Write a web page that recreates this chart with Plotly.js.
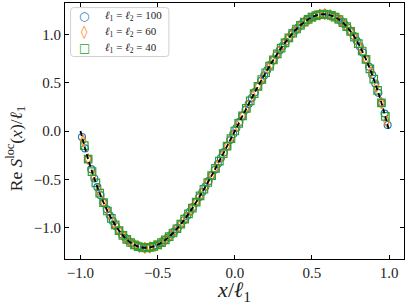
<!DOCTYPE html>
<html>
<head>
<meta charset="utf-8">
<script src="https://cdn.plot.ly/plotly-3.0.1.min.js"></script>
<style>html,body{margin:0;padding:0;background:#fff;}#plot{width:407px;height:305px;}</style>
</head>
<body>
<div id="plot"></div>
<script>
// ℓ1 = ℓ2 = 100 (circles)
const x100 = [-0.99,-0.97,-0.95,-0.93,-0.91,-0.89,-0.87,-0.85,-0.83,-0.81,-0.79,-0.77,-0.75,-0.73,-0.71,-0.69,-0.67,-0.65,-0.63,-0.61,-0.59,-0.57,-0.55,-0.53,-0.51,-0.49,-0.47,-0.45,-0.43,-0.41,-0.39,-0.37,-0.35,-0.33,-0.31,-0.29,-0.27,-0.25,-0.23,-0.21,-0.19,-0.17,-0.15,-0.13,-0.11,-0.09,-0.07,-0.05,-0.03,-0.01,
  0.01,0.03,0.05,0.07,0.09,0.11,0.13,0.15,0.17,0.19,0.21,0.23,0.25,0.27,0.29,0.31,0.33,0.35,0.37,0.39,0.41,0.43,0.45,0.47,0.49,0.51,0.53,0.55,0.57,0.59,0.61,0.63,0.65,0.67,0.69,0.71,0.73,0.75,0.77,0.79,0.81,0.83,0.85,0.87,0.89,0.91,0.93,0.95,0.97,0.99];
const y100 = [-0.062,-0.180,-0.291,-0.395,-0.491,-0.581,-0.664,-0.741,-0.811,-0.875,-0.933,-0.985,-1.031,-1.071,-1.106,-1.136,-1.160,-1.179,-1.194,-1.203,-1.208,-1.209,-1.205,-1.197,-1.185,-1.170,-1.150,-1.127,-1.101,-1.072,-1.039,-1.003,-0.965,-0.924,-0.880,-0.834,-0.786,-0.736,-0.684,-0.631,-0.575,-0.519,-0.461,-0.402,-0.341,-0.280,-0.219,-0.157,-0.094,-0.031,
  0.031,0.094,0.157,0.219,0.280,0.341,0.402,0.461,0.519,0.575,0.631,0.684,0.736,0.786,0.834,0.880,0.924,0.965,1.003,1.039,1.072,1.101,1.127,1.150,1.170,1.185,1.197,1.205,1.209,1.208,1.203,1.194,1.179,1.160,1.136,1.106,1.071,1.031,0.985,0.933,0.875,0.811,0.741,0.664,0.581,0.491,0.395,0.291,0.180,0.062];

// ℓ1 = ℓ2 = 60 (diamonds)
const x60 = [-0.983,-0.95,-0.917,-0.883,-0.85,-0.817,-0.783,-0.75,-0.717,-0.683,-0.65,-0.617,-0.583,-0.55,-0.517,-0.483,-0.45,-0.417,-0.383,-0.35,-0.317,-0.283,-0.25,-0.217,-0.183,-0.15,-0.117,-0.083,-0.05,-0.017,
  0.017,0.05,0.083,0.117,0.15,0.183,0.217,0.25,0.283,0.317,0.35,0.383,0.417,0.45,0.483,0.517,0.55,0.583,0.617,0.65,0.683,0.717,0.75,0.783,0.817,0.85,0.883,0.917,0.95,0.983];
const y60 = [-0.102,-0.291,-0.460,-0.610,-0.741,-0.854,-0.951,-1.031,-1.095,-1.144,-1.179,-1.201,-1.209,-1.205,-1.190,-1.164,-1.127,-1.082,-1.027,-0.965,-0.895,-0.819,-0.736,-0.649,-0.557,-0.461,-0.362,-0.260,-0.157,-0.052,
  0.052,0.157,0.260,0.362,0.461,0.557,0.649,0.736,0.819,0.895,0.965,1.027,1.082,1.127,1.164,1.190,1.205,1.209,1.201,1.179,1.144,1.095,1.031,0.951,0.854,0.741,0.610,0.460,0.291,0.102];

// ℓ1 = ℓ2 = 40 (squares)
const x40 = [-0.975,-0.95,-0.925,-0.9,-0.875,-0.85,-0.825,-0.8,-0.775,-0.75,-0.725,-0.7,-0.675,-0.65,-0.625,-0.6,-0.575,-0.55,-0.525,-0.5,-0.475,-0.45,-0.425,-0.4,-0.375,-0.35,-0.325,-0.3,-0.275,-0.25,-0.225,-0.2,-0.175,-0.15,-0.125,-0.1,-0.075,-0.05,-0.025,0,
  0.025,0.05,0.075,0.1,0.125,0.15,0.175,0.2,0.225,0.25,0.275,0.3,0.325,0.35,0.375,0.4,0.425,0.45,0.475,0.5,0.525,0.55,0.575,0.6,0.625,0.65,0.675,0.7,0.725,0.75,0.775,0.8,0.825,0.85,0.875,0.9,0.925,0.95,0.975];
const y40 = [-0.151,-0.291,-0.420,-0.537,-0.644,-0.741,-0.828,-0.905,-0.972,-1.031,-1.080,-1.122,-1.154,-1.179,-1.197,-1.206,-1.209,-1.205,-1.195,-1.178,-1.156,-1.127,-1.094,-1.056,-1.012,-0.965,-0.913,-0.858,-0.799,-0.736,-0.671,-0.603,-0.533,-0.461,-0.387,-0.311,-0.234,-0.157,-0.078,0,
  0.078,0.157,0.234,0.311,0.387,0.461,0.533,0.603,0.671,0.736,0.799,0.858,0.913,0.965,1.012,1.056,1.094,1.127,1.156,1.178,1.195,1.205,1.209,1.206,1.197,1.179,1.154,1.122,1.080,1.031,0.972,0.905,0.828,0.741,0.644,0.537,0.420,0.291,0.151];

// theory curve (dashed)
const xTh = [-1,-0.95,-0.9,-0.85,-0.8,-0.75,-0.7,-0.65,-0.6,-0.55,-0.5,-0.45,-0.4,-0.35,-0.3,-0.25,-0.2,-0.15,-0.1,-0.05,0,
  0.05,0.1,0.15,0.2,0.25,0.3,0.35,0.4,0.45,0.5,0.55,0.6,0.65,0.7,0.75,0.8,0.85,0.9,0.95,1];
const yTh = [0,-0.291,-0.537,-0.741,-0.905,-1.031,-1.122,-1.179,-1.206,-1.205,-1.178,-1.127,-1.056,-0.965,-0.858,-0.736,-0.603,-0.461,-0.311,-0.157,0,
  0.157,0.311,0.461,0.603,0.736,0.858,0.965,1.056,1.127,1.178,1.205,1.206,1.179,1.122,1.031,0.905,0.741,0.537,0.291,0];

const legendNames = ['<i>ℓ</i><sub>1</sub> = <i>ℓ</i><sub>2</sub> = 100',
                     '<i>ℓ</i><sub>1</sub> = <i>ℓ</i><sub>2</sub> = 60',
                     '<i>ℓ</i><sub>1</sub> = <i>ℓ</i><sub>2</sub> = 40'];
const legendGlyphs = ['○', '◊', '□'];
const colors = ['#1f77b4', '#ff7f0e', '#2ca02c'];
const xTicks = [-1.0,-0.5,0.0,0.5,1.0];
const yTicks = [-1.0,-0.5,0.0,0.5,1.0];
const yTitle = 'Re <i>S</i><sup>loc</sup>(<i>x</i>)/<i>ℓ</i><sub>1</sub>';
const xTitle = '<i>x</i>/<i>ℓ</i><sub>1</sub>';

const FONT = 'Liberation Serif, DejaVu Serif, serif';

const traces = [
  {x:x100, y:y100, type:'scatter', mode:'markers', name:legendNames[0], showlegend:false,
   marker:{symbol:'circle-open', size:7, color:colors[0], line:{width:1.1, color:colors[0]}}},
  {x:x60, y:y60, type:'scatter', mode:'markers', name:legendNames[1], showlegend:false,
   marker:{symbol:'diamond-tall-open', size:8, color:colors[1], line:{width:1.1, color:colors[1]}}},
  {x:x40, y:y40, type:'scatter', mode:'markers', name:legendNames[2], showlegend:false,
   marker:{symbol:'square-open', size:7.5, color:colors[2], line:{width:1.2, color:colors[2]}}},
  {x:xTh, y:yTh, type:'scatter', mode:'lines', showlegend:false,
   line:{color:'#000', width:1.8, dash:'5px,3px', shape:'spline', smoothing:1}}
];

// legend box (paper coordinates of the plot area)
const lx0 = 0.0165, lx1 = 0.3065, ly0 = 0.791, ly1 = 0.982, rx = 0.009, ry = 0.012;
const boxPath = `M ${lx0+rx},${ly1} L ${lx1-rx},${ly1} Q ${lx1},${ly1} ${lx1},${ly1-ry} L ${lx1},${ly0+ry} Q ${lx1},${ly0} ${lx1-rx},${ly0} L ${lx0+rx},${ly0} Q ${lx0},${ly0} ${lx0},${ly0+ry} L ${lx0},${ly1-ry} Q ${lx0},${ly1} ${lx0+rx},${ly1} Z`;
const entryY = [0.951, 0.888, 0.826];

const annotations = [];
for (let i = 0; i < 3; i++) {
  annotations.push({xref:'paper', yref:'paper', x:0.057, y:entryY[i], xanchor:'center', yanchor:'middle',
    text:legendGlyphs[i], showarrow:false,
    font:{family:'DejaVu Sans', size: i === 1 ? 13 : 12, color:colors[i]}});
  annotations.push({xref:'paper', yref:'paper', x:0.113, y:entryY[i], xanchor:'left', yanchor:'middle',
    text:legendNames[i], showarrow:false,
    font:{family:FONT, size:11, color:'#222'}});
}
// y-axis title, centred like the reference
annotations.push({xref:'paper', yref:'paper', x:-0.145, y:0.432, xanchor:'center', yanchor:'middle',
  text:yTitle, textangle:-90, showarrow:false, font:{family:FONT, size:17.5, color:'#222'}});

const axisCommon = {
  showline:true, linecolor:'#000', linewidth:1, mirror:'ticks',
  ticks:'inside', ticklen:4, tickwidth:1, tickcolor:'#000',
  showgrid:false, zeroline:false,
  tickfont:{family:FONT, size:15, color:'#222'}
};

const layout = {
  width:407, height:305,
  margin:{l:65, r:3, t:3, b:46},
  paper_bgcolor:'#fff', plot_bgcolor:'#fff',
  showlegend:false,
  xaxis:Object.assign({}, axisCommon, {
    range:[-1.1,1.096], tickvals:xTicks, tickformat:'.1f',
    title:{text:xTitle, font:{family:FONT, size:22, color:'#222'}, standoff:2}
  }),
  yaxis:Object.assign({}, axisCommon, {
    range:[-1.325,1.325], tickvals:yTicks, tickformat:'.1f'
  }),
  shapes:[{type:'path', xref:'paper', yref:'paper', path:boxPath,
    fillcolor:'rgba(255,255,255,0.85)', line:{color:'#d0d0d0', width:1}, layer:'above'}],
  annotations:annotations
};

Plotly.newPlot('plot', traces, layout, {displayModeBar:false, staticPlot:true});
</script>
</body>
</html>
